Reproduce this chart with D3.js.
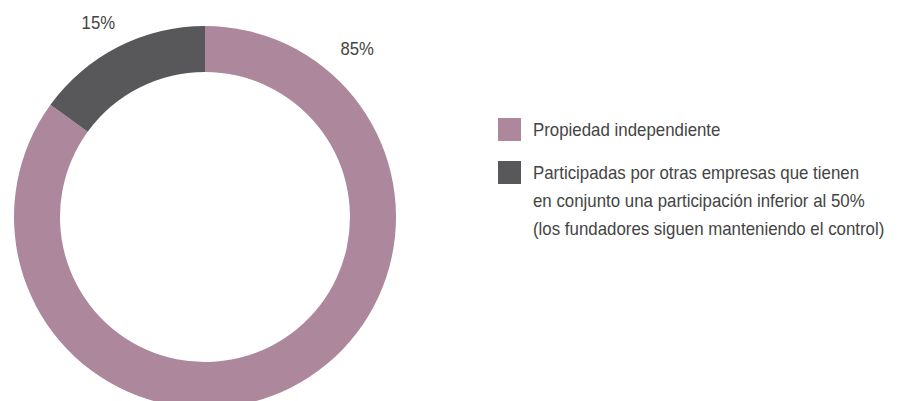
<!DOCTYPE html>
<html>
<head>
<meta charset="utf-8">
<script src="https://cdn.jsdelivr.net/npm/d3@7/dist/d3.min.js"></script>
<style>
  html, body { margin: 0; padding: 0; background: #fff; }
  svg { display: block; }
  text { font-family: "Liberation Sans", Arial, sans-serif; fill: #444; }
</style>
</head>
<body>
<svg id="chart" width="900" height="401"></svg>
<script>
const categories = ["Propiedad independiente", "Participadas por otras empresas que tienen en conjunto una participación inferior al 50% (los fundadores siguen manteniendo el control)"];
const legendLines = [
  ["Propiedad independiente"],
  ["Participadas por otras empresas que tienen", "en conjunto una participación inferior al 50%", "(los fundadores siguen manteniendo el control)"]
];
const values = [85, 15];
const valueLabels = ["85%", "15%"];
const colors = ["#ad879c", "#58585a"];

const svg = d3.select("#chart");
const cx = 205, cy = 217, R = 191, r = 145;

const pie = d3.pie().sort(null).value(d => d)(values);
const arc = d3.arc().innerRadius(r).outerRadius(R);

const g = svg.append("g").attr("transform", `translate(${cx},${cy})`);
g.selectAll("path").data(pie).enter().append("path")
  .attr("d", arc)
  .attr("fill", (d, i) => colors[i]);

const labelAngle = [d => d.startAngle + 0.735, d => (d.startAngle + d.endAngle) / 2 - 0.03];
const labelRadius = [227, 222];
g.selectAll("g.val").data(pie).enter().append("g")
  .attr("class", "val")
  .attr("transform", (d, i) => `translate(${Math.sin(labelAngle[i](d)) * labelRadius[i]},${-Math.cos(labelAngle[i](d)) * labelRadius[i]}) scale(0.93,1)`)
  .append("text")
  .attr("text-anchor", "middle")
  .attr("dominant-baseline", "central")
  .style("font-size", "18px")
  .text((d, i) => valueLabels[i]);

// legend
const lx = 498, sw = 23;
const itemY = [118, 161];
const lineH = 28.5;
const lg = svg.append("g");
categories.forEach((c, i) => {
  lg.append("rect").attr("x", lx).attr("y", itemY[i]).attr("width", sw).attr("height", sw).attr("fill", colors[i]);
  const t = lg.append("g")
    .attr("transform", `translate(${lx + 35},${itemY[i] + sw / 2 + 6}) scale(0.964,1)`)
    .append("text").attr("x", 0).attr("y", 0)
    .style("font-size", "17.5px");
  legendLines[i].forEach((ln, j) => {
    t.append("tspan").attr("x", 0).attr("dy", j === 0 ? 0 : lineH).text(ln);
  });
});
</script>
</body>
</html>
